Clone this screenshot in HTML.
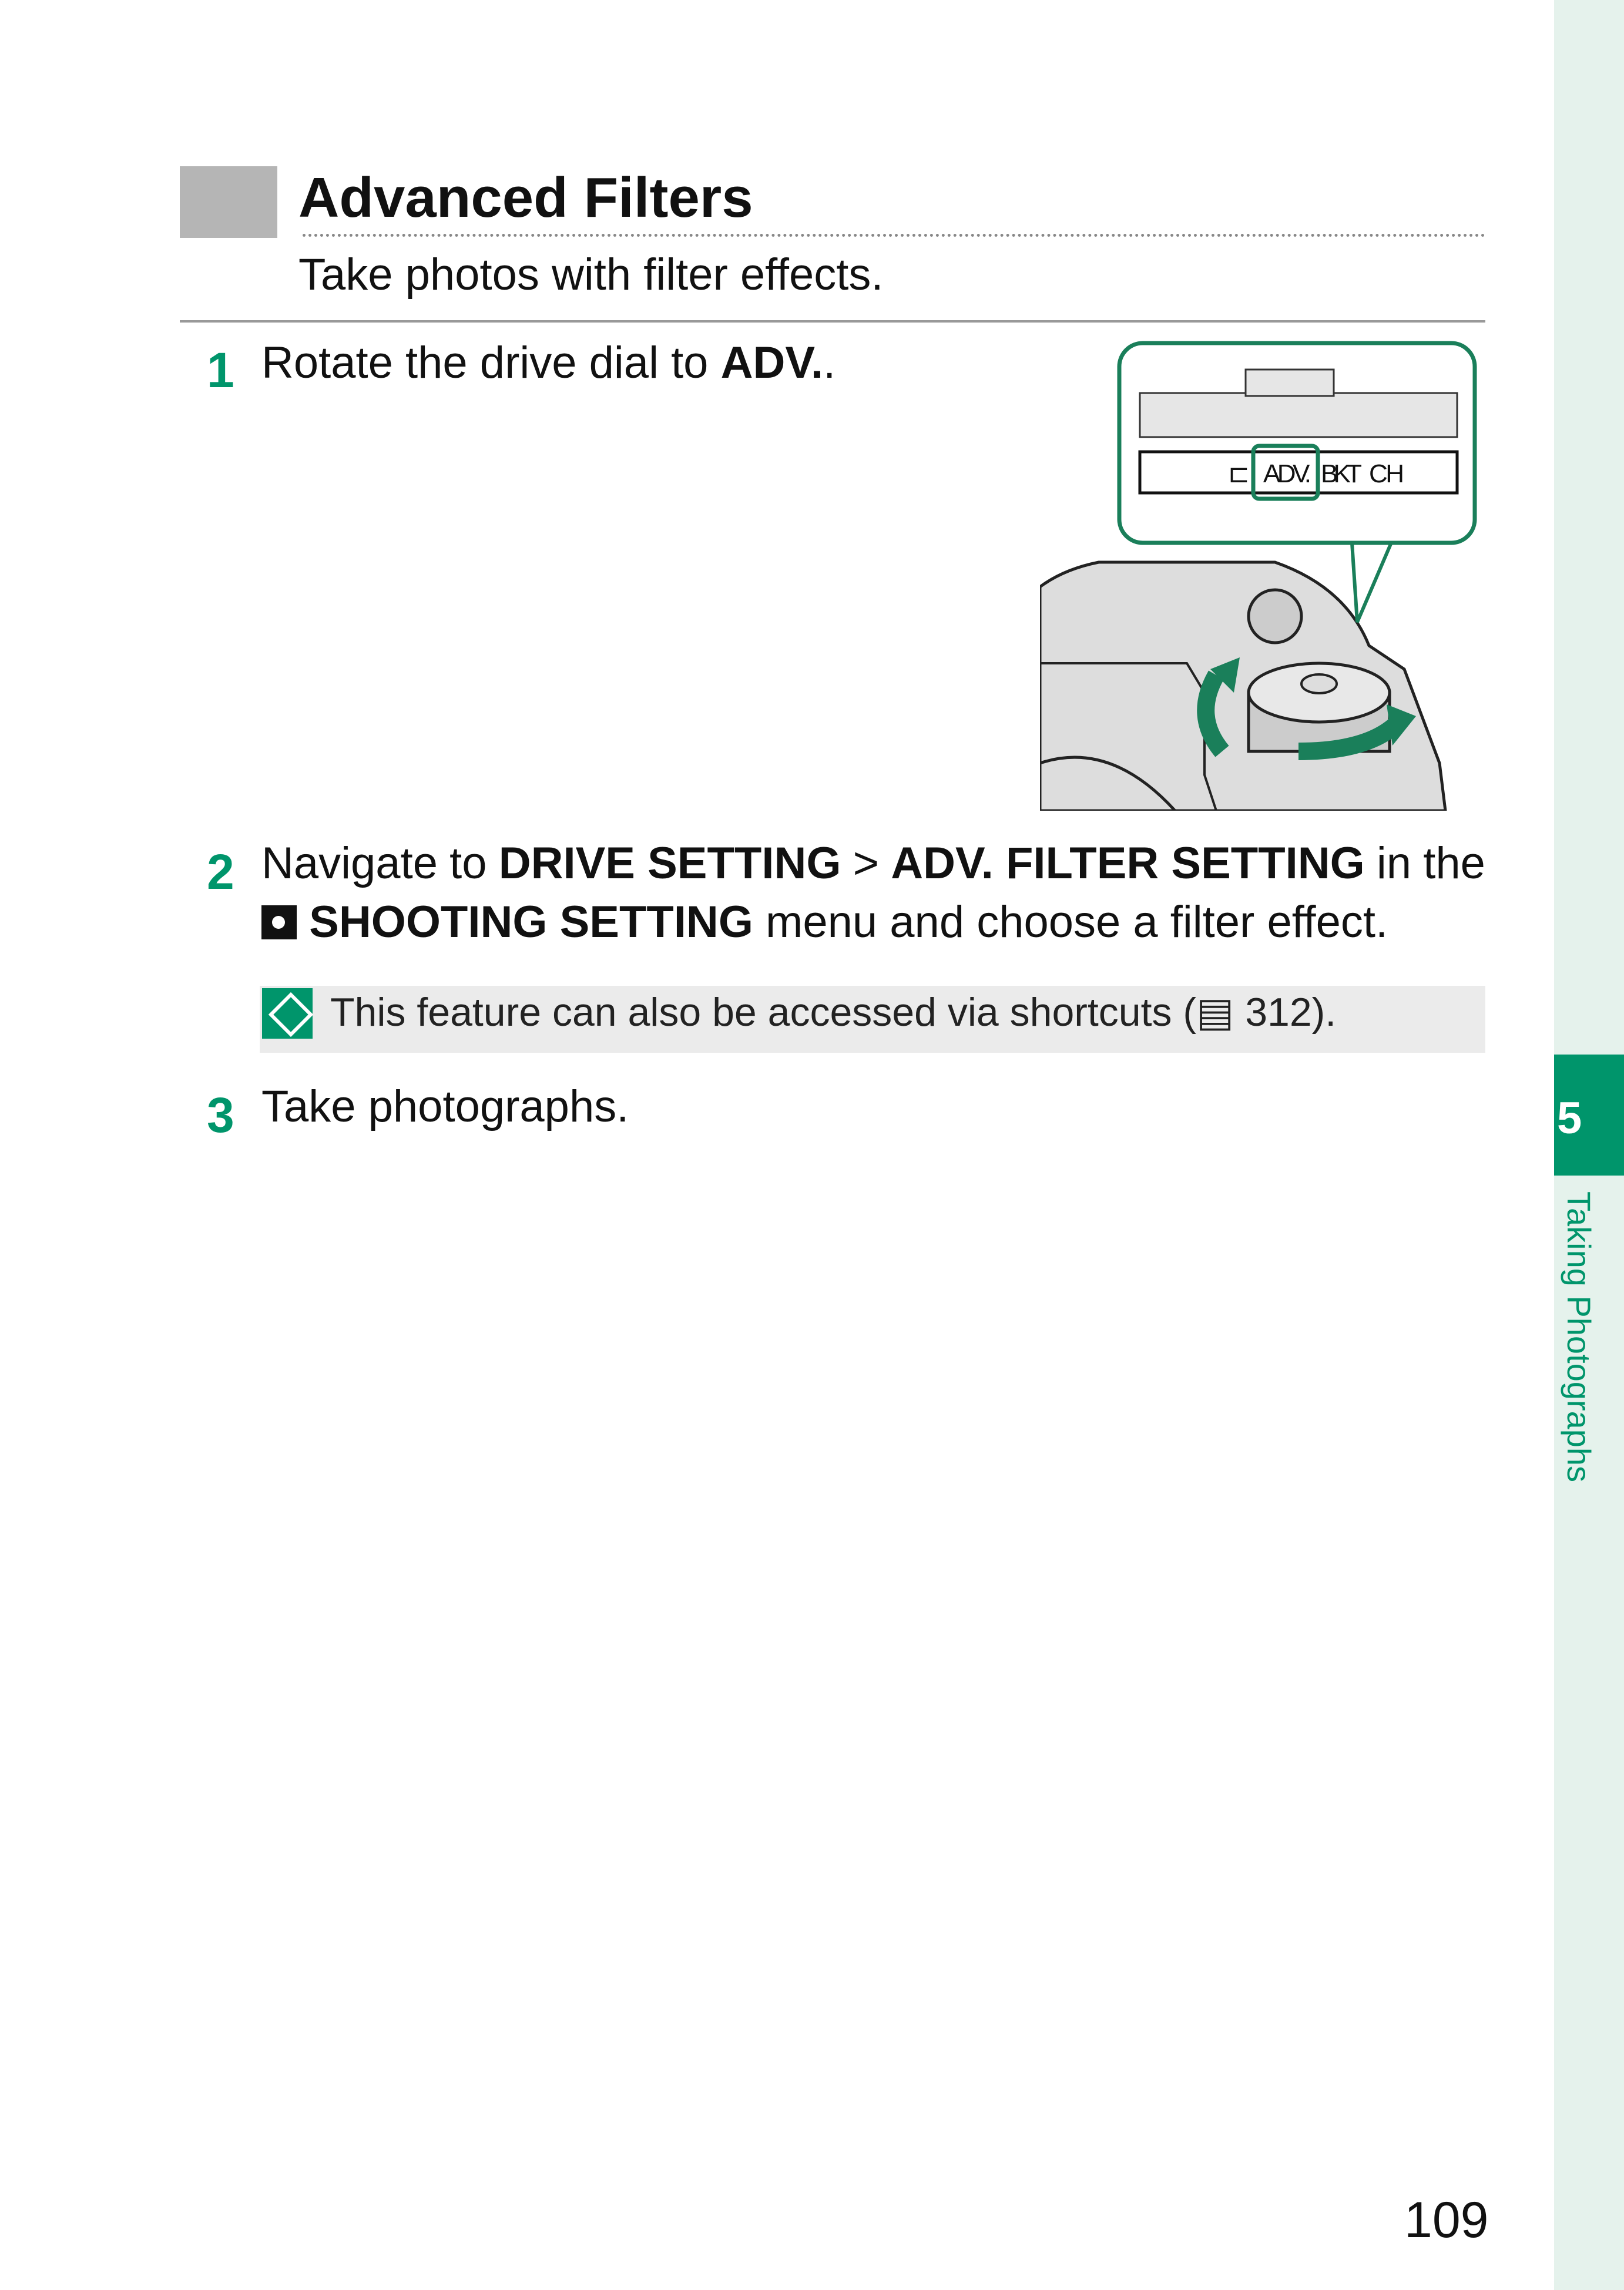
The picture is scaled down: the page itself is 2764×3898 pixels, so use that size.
<!DOCTYPE html>
<html><head><meta charset="utf-8"><style>
html,body{margin:0;padding:0}
body{width:2764px;height:3898px;position:relative;background:#fff;font-family:"Liberation Sans",sans-serif;color:#111;overflow:hidden}
.a{position:absolute;white-space:nowrap}
.step{font-size:76px;line-height:1}
.num{color:#00956b;font-weight:bold;font-size:84px}
</style></head><body>
<div class="a" style="left:2645px;top:0;width:119px;height:3898px;background:#e5f2ec"></div>
<div class="a" style="left:2645px;top:1795px;width:119px;height:206px;background:#00956b"></div>
<div class="a" style="left:2650px;top:1860px;font-size:76px;font-weight:bold;color:#fff">5</div>
<div class="a" style="left:2650px;top:2028px;font-size:56px;color:#00956b;transform-origin:0 0;transform:translate(70px,0) rotate(90deg)">Taking Photographs</div>

<div class="a" style="left:306px;top:283px;width:166px;height:122px;background:#b5b5b5"></div>
<div class="a" style="left:508px;top:282px;font-size:96px;font-weight:bold">Advanced Filters</div>
<div class="a" style="left:515px;top:398px;width:2013px;border-top:5px dotted #888"></div>
<div class="a" style="left:508px;top:424px;font-size:76px">Take photos with filter effects.</div>
<div class="a" style="left:306px;top:545px;width:2222px;height:4px;background:#999"></div>

<div class="a num" style="left:352px;top:582px">1</div>
<div class="a step" style="left:445px;top:580px">Rotate the drive dial to <b>ADV.</b>.</div>

<svg class="a" style="left:1770px;top:579px" width="745" height="801" viewBox="0 0 745 801">
 <path d="M0 420 Q40 390 100 378 L400 378 Q520 420 560 520 L620 560 L680 720 L690 801 L0 801 Z" fill="#ddd" stroke="#222" stroke-width="5"/>
 <path d="M0 550 L250 550 L280 600 L280 740 L300 801" fill="none" stroke="#222" stroke-width="4"/>
 <path d="M0 720 Q120 680 230 801" fill="none" stroke="#222" stroke-width="5"/>
 <circle cx="400" cy="470" r="45" fill="#ccc" stroke="#222" stroke-width="5"/>
 <rect x="355" y="600" width="240" height="100" fill="#ccc" stroke="#222" stroke-width="5"/>
 <ellipse cx="475" cy="600" rx="120" ry="50" fill="#e8e8e8" stroke="#222" stroke-width="5"/>
 <ellipse cx="475" cy="585" rx="30" ry="16" fill="#ddd" stroke="#222" stroke-width="4"/>
 <path d="M310 700 Q260 640 300 570" fill="none" stroke="#1a7f5a" stroke-width="30"/>
 <path d="M290 560 L330 600 L340 540 Z" fill="#1a7f5a"/>
 <path d="M440 700 Q560 700 610 650" fill="none" stroke="#1a7f5a" stroke-width="30"/>
 <path d="M590 620 L600 690 L640 640 Z" fill="#1a7f5a"/>
 <path d="M530 330 L540 480 L600 340" fill="#fff" stroke="#1a7f5a" stroke-width="6"/>
 <rect x="135" y="5" width="605" height="340" rx="40" fill="#fff" stroke="#1a7f5a" stroke-width="7"/>
 <rect x="170" y="90" width="540" height="75" fill="#e6e6e6" stroke="#333" stroke-width="3"/>
 <rect x="350" y="50" width="150" height="45" fill="#e6e6e6" stroke="#333" stroke-width="3"/>
 <rect x="170" y="190" width="540" height="70" fill="#fff" stroke="#111" stroke-width="5"/>
 <rect x="363" y="180" width="110" height="90" rx="10" fill="none" stroke="#1a7f5a" stroke-width="7"/>
 <text x="380" y="242" font-family="Liberation Sans Narrow,Liberation Sans,sans-serif" font-size="44" fill="#111" textLength="82">ADV.</text>
 <text x="478" y="242" font-family="Liberation Sans Narrow,Liberation Sans,sans-serif" font-size="44" fill="#111" textLength="70">BKT</text>
 <text x="560" y="242" font-family="Liberation Sans Narrow,Liberation Sans,sans-serif" font-size="44" fill="#111" textLength="60">CH</text>
 <text x="320" y="242" font-family="Liberation Sans,sans-serif" font-size="44" fill="#111">⊏</text>
</svg>

<div class="a num" style="left:352px;top:1436px">2</div>
<div class="a step" style="left:445px;top:1432px;width:2083px;display:flex;justify-content:space-between"><span>Navigate</span><span>to</span><span><b>DRIVE SETTING</b></span><span>&gt;</span><span><b>ADV. FILTER SETTING</b></span><span>in</span><span>the</span></div>
<div class="a step" style="left:445px;top:1532px"><span style="display:inline-block;width:60px;height:58px;background:#111;vertical-align:-4px;position:relative"><span style="position:absolute;left:18px;top:18px;width:22px;height:22px;border-radius:50%;background:#fff"></span></span> <b>SHOOTING SETTING</b> menu and choose a filter effect.</div>

<div class="a" style="left:442px;top:1678px;width:2086px;height:114px;background:#ebebeb"></div>
<div class="a" style="left:446px;top:1682px;width:86px;height:86px;background:#00956b"><div style="position:absolute;left:22px;top:18px;width:42px;height:42px;border:6px solid #fff;transform:rotate(45deg)"></div></div>
<div class="a" style="left:562px;top:1684px;font-size:68px;color:#222">This feature can also be accessed via shortcuts (▤ 312).</div>

<div class="a num" style="left:352px;top:1850px">3</div>
<div class="a step" style="left:445px;top:1846px">Take photographs.</div>

<div class="a" style="left:2390px;top:3730px;font-size:86px">109</div>
</body></html>
